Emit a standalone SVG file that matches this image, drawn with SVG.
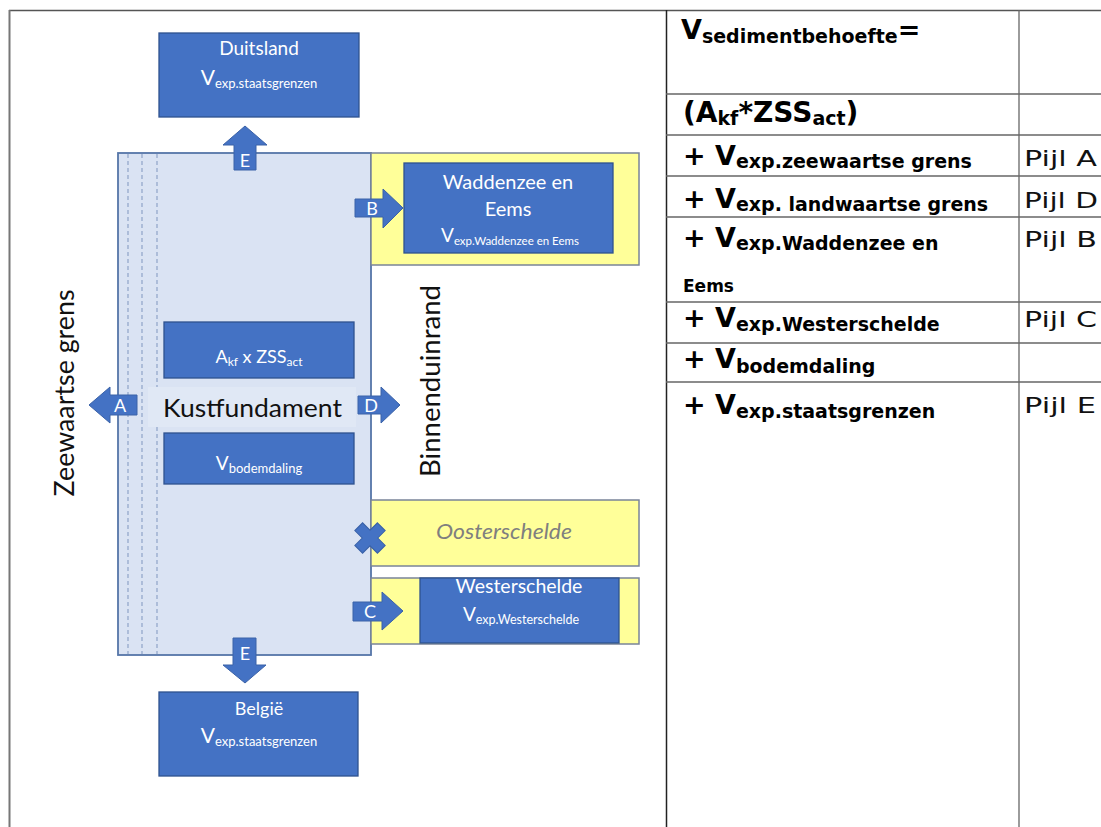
<svg xmlns="http://www.w3.org/2000/svg" width="1101" height="827" viewBox="0 0 1101 827">
<style>
.frame{stroke:#555;stroke-width:1.5;fill:none}
.grid{stroke:#666;stroke-width:1.3;fill:none}
.blue{fill:#4472C4;stroke:#2F528F;stroke-width:1.3}
.yel{fill:#FFFF99;stroke:#7A8499;stroke-width:1.5}
.main{fill:#DAE3F3;stroke:#5575A8;stroke-width:1.8}
.dash{stroke:#8FA3C8;stroke-width:1.2;stroke-dasharray:4 3}
.arrow{fill:#4472C4;stroke:#3A62A8;stroke-width:1}
.wt{font-family:Lato,"Open Sans",sans-serif;fill:#fff;text-anchor:middle}
.bk{font-family:Lato,"Open Sans",sans-serif;fill:#111}
.tb{font-family:"DejaVu Sans",Verdana,sans-serif;font-weight:bold;fill:#000}
.pl{font-family:"DejaVu Sans",Verdana,sans-serif;fill:#111;font-size:22px}
.al{font-family:Lato,"Open Sans",sans-serif;fill:#fff;text-anchor:middle;font-size:18px}
</style>
<rect width="1101" height="827" fill="#fff"/>
<g id="frame">
<line class="frame" x1="9" y1="10.5" x2="1101" y2="10.5"/>
<line class="frame" x1="9.5" y1="10" x2="9.5" y2="827" style="stroke-width:2;stroke:#777"/>
</g>
<g id="table">
<line x1="666.5" y1="10" x2="666.5" y2="827" stroke="#222" stroke-width="1.5"/>
<line class="grid" x1="1019" y1="10" x2="1019" y2="827"/>
<line class="grid" x1="666" y1="94" x2="1101" y2="94"/>
<line class="grid" x1="666" y1="135" x2="1101" y2="135"/>
<line class="grid" x1="666" y1="176" x2="1101" y2="176"/>
<line class="grid" x1="666" y1="217" x2="1101" y2="217"/>
<line class="grid" x1="666" y1="302" x2="1101" y2="302"/>
<line class="grid" x1="666" y1="343" x2="1101" y2="343"/>
<line class="grid" x1="666" y1="382" x2="1101" y2="382"/>
<text class="tb" x="681" y="39"><tspan font-size="27">V</tspan><tspan font-size="19" dy="4">sedimentbehoefte</tspan><tspan font-size="27" dy="-4">=</tspan></text>
<text class="tb" x="683" y="122"><tspan font-size="28">(A</tspan><tspan font-size="19" dy="3">kf</tspan><tspan font-size="28" dy="-3">*ZSS</tspan><tspan font-size="19" dy="3">act</tspan><tspan font-size="28" dy="-3">)</tspan></text>
<text class="tb" x="683" y="165"><tspan font-size="27">+ V</tspan><tspan font-size="19" dy="3">exp.zeewaartse grens</tspan></text>
<text class="tb" x="683" y="208"><tspan font-size="27">+ V</tspan><tspan font-size="19" dy="3">exp. landwaartse grens</tspan></text>
<text class="tb" x="683" y="247"><tspan font-size="27">+ V</tspan><tspan font-size="19" dy="3">exp.Waddenzee en</tspan></text>
<text class="tb" x="683" y="292" font-size="17">Eems</text>
<text class="tb" x="683" y="327"><tspan font-size="27">+ V</tspan><tspan font-size="19" dy="4">exp.Westerschelde</tspan></text>
<text class="tb" x="683" y="368"><tspan font-size="27">+ V</tspan><tspan font-size="19" dy="5">bodemdaling</tspan></text>
<text class="tb" x="683" y="414"><tspan font-size="27">+ V</tspan><tspan font-size="19" dy="4">exp.staatsgrenzen</tspan></text>
<text class="pl" x="1024" y="166" textLength="73" lengthAdjust="spacingAndGlyphs">Pijl A</text>
<text class="pl" x="1024" y="208" textLength="74" lengthAdjust="spacingAndGlyphs">Pijl D</text>
<text class="pl" x="1024" y="247" textLength="73" lengthAdjust="spacingAndGlyphs">Pijl B</text>
<text class="pl" x="1024" y="327" textLength="73" lengthAdjust="spacingAndGlyphs">Pijl C</text>
<text class="pl" x="1024" y="413" textLength="72" lengthAdjust="spacingAndGlyphs">Pijl E</text>
</g>
<g id="kustfundament">
<rect class="main" x="118" y="153" width="253" height="502"/>
<line class="dash" x1="128" y1="154" x2="128" y2="654"/>
<line class="dash" x1="142" y1="154" x2="142" y2="654"/>
<line class="dash" x1="157" y1="154" x2="157" y2="654"/>
<rect x="148" y="387" width="208" height="40" fill="#E0E8F5"/>
<text class="bk" x="163" y="417" font-size="25" textLength="179" lengthAdjust="spacingAndGlyphs">Kustfundament</text>
</g>
<g id="duitsland">
<rect class="blue" x="159" y="33" width="200" height="84"/>
<text class="wt" x="259" y="55" font-size="19">Duitsland</text>
<text class="wt" x="259" y="85"><tspan font-size="21">V</tspan><tspan font-size="13" dy="3">exp.staatsgrenzen</tspan></text>
</g>
<g id="waddenzee">
<rect class="yel" x="371" y="153" width="268" height="112"/>
<rect class="blue" x="404" y="163" width="209" height="90"/>
<text class="wt" x="508" y="189" font-size="20">Waddenzee en</text>
<text class="wt" x="508" y="216" font-size="20">Eems</text>
<text class="wt" x="510" y="242"><tspan font-size="19">V</tspan><tspan font-size="11.5" dy="3">exp.Waddenzee en Eems</tspan></text>
</g>
<g id="akf">
<rect class="blue" x="164" y="322" width="190" height="56"/>
<text class="wt" x="259" y="363"><tspan font-size="18">A</tspan><tspan font-size="12" dy="3">kf</tspan><tspan font-size="18" dy="-3"> x ZSS</tspan><tspan font-size="12" dy="3">act</tspan></text>
</g>
<g id="bodemdaling">
<rect class="blue" x="164" y="433" width="190" height="51"/>
<text class="wt" x="259" y="470"><tspan font-size="19">V</tspan><tspan font-size="13" dy="3">bodemdaling</tspan></text>
</g>
<g id="oosterschelde">
<rect class="yel" x="371" y="500" width="268" height="66"/>
<text x="436" y="539" font-family="Lato,'Open Sans',sans-serif" font-style="italic" font-size="21" fill="#7F7F7F" textLength="136" lengthAdjust="spacingAndGlyphs">Oosterschelde</text>
</g>
<g id="westerschelde">
<rect class="yel" x="371" y="578" width="268" height="66"/>
<rect class="blue" x="420" y="578" width="199" height="65"/>
<text class="wt" x="519" y="593" font-size="19.5">Westerschelde</text>
<text class="wt" x="521" y="621"><tspan font-size="19">V</tspan><tspan font-size="12.5" dy="3">exp.Westerschelde</tspan></text>
</g>
<g id="belgie">
<rect class="blue" x="159" y="692" width="199" height="84"/>
<text class="wt" x="259" y="715" font-size="18">België</text>
<text class="wt" x="259" y="743"><tspan font-size="21">V</tspan><tspan font-size="13" dy="3">exp.staatsgrenzen</tspan></text>
</g>
<g id="labels">
<text class="bk" transform="translate(74,393) rotate(-90)" font-size="26" text-anchor="middle" textLength="207" lengthAdjust="spacingAndGlyphs">Zeewaartse grens</text>
<text class="bk" transform="translate(440,381) rotate(-90)" font-size="26" text-anchor="middle" textLength="192" lengthAdjust="spacingAndGlyphs">Binnenduinrand</text>
</g>
<g id="connectors">
<polygon class="arrow" points="234,170 234,145 223,145 245,126 267,145 256,145 256,170"/>
<text class="al" x="245" y="167">E</text>
<polygon class="arrow" points="233,638 256,638 256,665 266,665 245,683 223,665 233,665"/>
<text class="al" x="245" y="660">E</text>
<polygon class="arrow" points="137,395 110,395 110,387 89,405 110,423 110,415 137,415"/>
<text class="al" x="120" y="412">A</text>
<polygon class="arrow" points="358,396 381,396 381,387 400,405 381,423 381,414 358,414"/>
<text class="al" x="371" y="412">D</text>
<polygon class="arrow" points="355,199 383,199 383,189 403,208 383,228 383,217 355,217"/>
<text class="al" x="372" y="215">B</text>
<polygon class="arrow" points="353,602 382,602 382,592 403,611 382,630 382,621 353,621"/>
<text class="al" x="370" y="618">C</text>
<path class="arrow" transform="translate(370,538) rotate(45)" d="M-5.5,-16 H5.5 V-5.5 H16 V5.5 H5.5 V16 H-5.5 V5.5 H-16 V-5.5 H-5.5 Z"/>
</g>
</svg>
